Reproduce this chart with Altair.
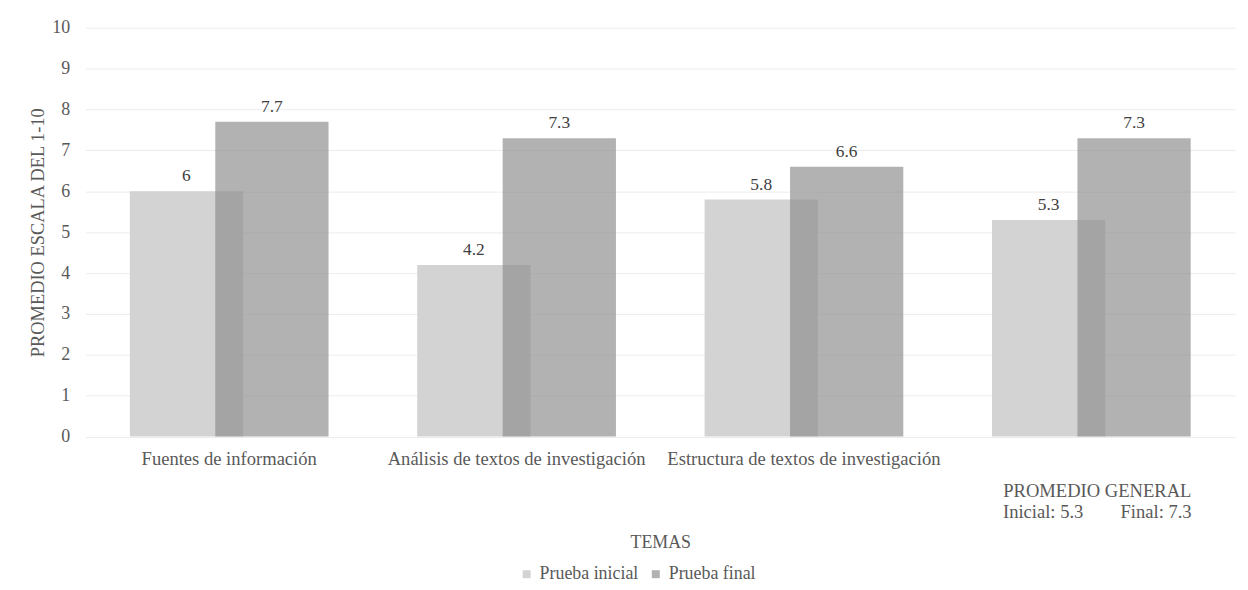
import altair as alt
import pandas as pd

temas = [
    "Fuentes de información",
    "Análisis de textos de investigación",
    "Estructura de textos de investigación",
    "PROMEDIO GENERAL",
]
inicial = [6, 4.2, 5.8, 5.3]
final = [7.7, 7.3, 6.6, 7.3]
series = ["Prueba inicial", "Prueba final"]
promedio_label = ["PROMEDIO GENERAL",
                  "Inicial: 5.3" + "\u00a0" * 8 + "Final: 7.3"]

rows = []
for t, a, b in zip(temas, inicial, final):
    rows.append({"tema": t, "serie": series[0], "valor": a})
    rows.append({"tema": t, "serie": series[1], "valor": b})
df = pd.DataFrame(rows)

FONT = "Liberation Serif"
GREY = "#595959"

is_prom = "datum.label == 'PROMEDIO GENERAL'"
label_expr = (is_prom + " ? ["
              + ", ".join("'" + s + "'" for s in promedio_label)
              + "] : datum.label")

x_enc = alt.X(
    "tema:N", sort=temas, title="TEMAS",
    scale=alt.Scale(paddingInner=0, paddingOuter=0),
    axis=alt.Axis(labelAngle=0, labelExpr=label_expr,
                  labelPadding={"condition": {"test": is_prom, "value": 45},
                                "value": 13},
                  labelOffset={"condition": {"test": is_prom, "value": 6},
                               "value": 0},
                  labelLimit=600, ticks=False, domain=False,
                  labelFontSize=18.7, labelColor=GREY, labelFont=FONT,
                  labelLineHeight=21,
                  titleFont=FONT, titleFontSize=18, titleColor=GREY,
                  titleFontWeight="normal", titleY=107, titleBaseline="middle"),
)
y_enc = alt.Y(
    "valor:Q", title="PROMEDIO ESCALA DEL 1-10",
    scale=alt.Scale(domain=[0, 10], nice=False),
    axis=alt.Axis(values=list(range(0, 11)), ticks=False, domain=False,
                  labelPadding=16, labelFontSize=18, labelColor=GREY,
                  labelFont=FONT, gridColor="#ececec", gridWidth=1,
                  titleFont=FONT, titleFontSize=18.5, titleColor=GREY,
                  titleFontWeight="normal", titlePadding=4),
)
color_enc = alt.Color(
    "serie:N",
    scale=alt.Scale(domain=series, range=["#d3d3d3", "#8e8e8e"]),
    legend=alt.Legend(title=None, orient="none", legendX=435, legendY=541,
                      direction="horizontal"),
)
opacity_enc = alt.Opacity(
    "serie:N",
    scale=alt.Scale(domain=series, range=[1, 0.68]),
    legend=alt.Legend(title=None, orient="none", legendX=435, legendY=541,
                      direction="horizontal"),
)

base = alt.Chart(df)
layers = []
for s, off in zip(series, [-43, 43]):
    sub = base.transform_filter(alt.datum.serie == s)
    bars = sub.mark_bar(width=114, xOffset=off).encode(
        x=x_enc, y=y_enc, color=color_enc, opacity=opacity_enc)
    txt = sub.mark_text(xOffset=off, dy=-15, font=FONT, fontSize=17.5,
                        color="#404040", baseline="middle").encode(
        x=alt.X("tema:N", sort=temas, bandPosition=0.5),
        y="valor:Q", text="valor:Q")
    layers += [bars, txt]

chart = alt.layer(*layers).properties(
    width=1157, height=411.5,
    autosize=alt.AutoSizeParams(type="none"),
    padding={"left": 78, "top": 18, "right": 5, "bottom": 150},
).configure(
    background="white", font=FONT
).configure_view(
    stroke=None
).configure_legend(
    symbolType="square", symbolSize=64, symbolStrokeWidth=0,
    labelFont=FONT, labelFontSize=18, labelColor=GREY,
    columnPadding=8, labelOffset=4, labelLimit=300
)

chart.save("out.html", embed_options={"renderer": "svg", "actions": False})
